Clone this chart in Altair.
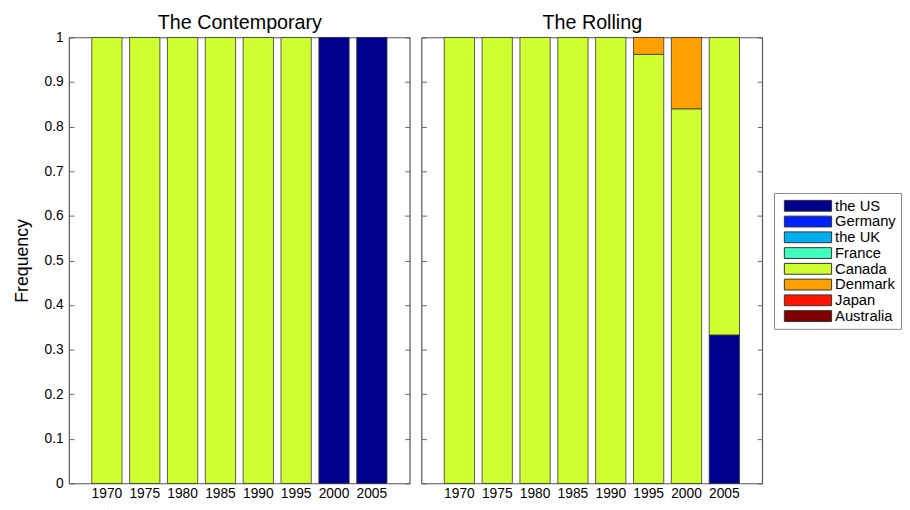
import altair as alt
import pandas as pd

years = [1970, 1975, 1980, 1985, 1990, 1995, 2000, 2005]
countries = ["the US", "Germany", "the UK", "France", "Canada", "Denmark", "Japan", "Australia"]
colors = ["#00008F", "#0020FF", "#00AFEF", "#40FFBF", "#CFFF30", "#FFA000", "#FF1400", "#800000"]

contemporary = {
    "the US": [0, 0, 0, 0, 0, 0, 1, 1],
    "Canada": [1, 1, 1, 1, 1, 1, 0, 0],
}
rolling = {
    "the US": [0, 0, 0, 0, 0, 0, 0, 0.333],
    "Canada": [1, 1, 1, 1, 1, 0.962, 0.84, 0.667],
    "Denmark": [0, 0, 0, 0, 0, 0.038, 0.16, 0],
}

FONT = "Liberation Sans"


def to_df(d):
    rows = []
    for c, vals in d.items():
        for y, v in zip(years, vals):
            if v > 0:
                rows.append({"year": y, "country": c, "value": v, "idx": countries.index(c)})
    return pd.DataFrame(rows)


def panel(d, title, first):
    df = to_df(d)
    base = alt.Chart(df)
    yscale = alt.Scale(domain=[0, 1], nice=False)
    xscale = alt.Scale(domain=years, paddingInner=0.2, paddingOuter=0.6)
    bars = base.mark_bar(stroke="#333333", strokeWidth=0.8, opacity=1).encode(
        x=alt.X("year:O", sort=years, scale=xscale,
                axis=alt.Axis(title=None, labelAngle=0, ticks=False, domain=False,
                              labelFontSize=14, labelFont=FONT, labelColor="#000",
                              labelPadding=3)),
        y=alt.Y("value:Q", stack="zero", scale=yscale,
                axis=alt.Axis(title="Frequency" if first else None,
                              values=[i / 10 for i in range(11)],
                              labels=first, labelExpr="datum.value == 0 ? '0' : datum.value == 1 ? '1' : format(datum.value, '.1f')",
                              grid=False, domain=False, tickSize=5, offset=-5,
                              tickColor="#666666", labelFontSize=14, labelFont=FONT,
                              labelColor="#000", labelPadding=6,
                              titleFontSize=18, titleFont=FONT, titleFontWeight="normal",
                              titleColor="#000", titlePadding=13)),
        color=alt.Color("country:N",
                        scale=alt.Scale(domain=countries, range=colors),
                        legend=alt.Legend(title=None, orient="none", legendX=716, legendY=158,
                                          direction="vertical",
                                          symbolType="M-0.333,-0.733L6.067,-0.733L6.067,0.733L-0.333,0.733Z",
                                          symbolSize=225, symbolStrokeColor="#333333",
                                          symbolStrokeWidth=1, symbolOpacity=1,
                                          labelFontSize=15, labelFont=FONT, labelColor="#000",
                                          strokeColor="#888888", fillColor="white",
                                          padding=5, rowPadding=0, labelOffset=41)),
        order=alt.Order("idx:Q"),
    )
    frame_axes = base.mark_point(opacity=0).encode(
        x=alt.X("year:O", sort=years, scale=xscale,
                axis=alt.Axis(orient="top", title=title, labels=False, ticks=False,
                              domain=False, titleFontSize=20, titleFont=FONT,
                              titleFontWeight="normal", titleColor="#000",
                              titlePadding=5)),
        y=alt.Y("value:Q", scale=yscale,
                axis=alt.Axis(orient="right", title=None, labels=False,
                              values=[i / 10 for i in range(11)],
                              grid=False, domain=False, tickSize=5, offset=-5,
                              tickColor="#666666")),
    )
    return alt.layer(bars, frame_axes).resolve_scale(x="independent", y="independent").properties(
        width=346, height=453,
    )


chart = alt.hconcat(
    panel(contemporary, "The Contemporary", True),
    panel(rolling, "The Rolling", False),
    spacing=8,
).properties(padding={"left": 4, "top": 0, "right": 0, "bottom": 0}).configure_view(
    stroke="#555555", strokeWidth=1.2)

chart.save("out.html", embed_options={"renderer": "svg", "actions": False})
